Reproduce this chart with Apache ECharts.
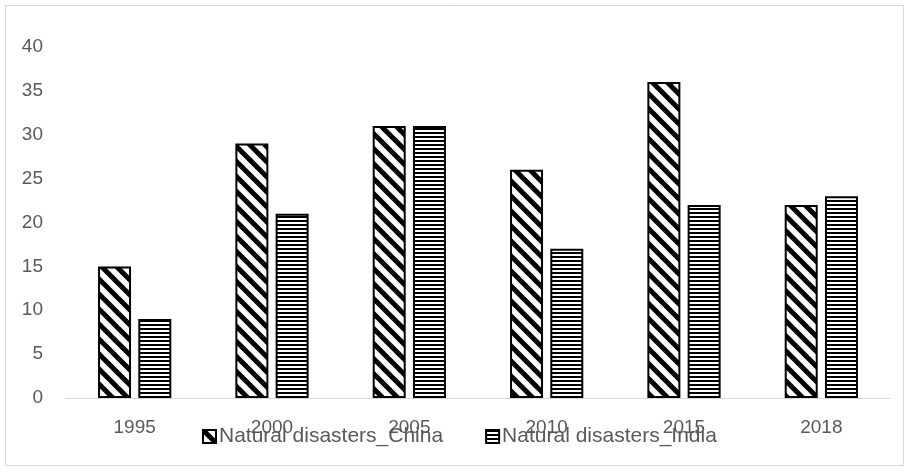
<!DOCTYPE html>
<html>
<head>
<meta charset="utf-8">
<script src="https://cdn.jsdelivr.net/npm/echarts@6/dist/echarts.min.js"></script>
<style>html,body{margin:0;padding:0;background:#fff;}#c{width:910px;height:472px;}</style>
</head>
<body>
<div id="c"></div>
<script>
var categories = ['1995', '2000', '2005', '2010', '2015', '2018'];
var chinaValues = [15, 29, 31, 26, 36, 22];
var indiaValues = [9, 21, 31, 17, 22, 23];
var seriesNames = ['Natural disasters_China', 'Natural disasters_India'];

function diagPattern() {
  var s = 15, c = document.createElement('canvas');
  c.width = s; c.height = s;
  var g = c.getContext('2d');
  g.fillStyle = '#fff'; g.fillRect(0, 0, s, s);
  g.strokeStyle = '#000'; g.lineWidth = 5;
  for (var k = -1; k <= 1; k++) {
    g.beginPath(); g.moveTo(k * s - 2, -2); g.lineTo(k * s + s + 2, s + 2); g.stroke();
  }
  return c;
}
function horizPattern() {
  var c = document.createElement('canvas');
  c.width = 4; c.height = 4;
  var g = c.getContext('2d');
  g.fillStyle = '#fff'; g.fillRect(0, 0, 4, 4);
  g.fillStyle = '#000'; g.fillRect(0, 0, 4, 2);
  return c;
}

var chart = echarts.init(document.getElementById('c'), null, {renderer: 'canvas'});
var font = 'Liberation Sans';
chart.setOption({
  animation: false,
  backgroundColor: '#fff',
  graphic: [{
    type: 'rect', shape: {x: 5.5, y: 5.5, width: 898, height: 460},
    style: {fill: 'none', stroke: '#d9d9d9', lineWidth: 1}, z: -1
  }],
  grid: {left: 66, right: 20, top: 47, bottom: 74, containLabel: false},
  legend: {
    top: 421, left: 197,
    itemWidth: 13, itemHeight: 13, itemGap: 42,
    icon: 'rect',
    textStyle: {color: '#595959', fontSize: 21, fontFamily: font, padding: [0, 0, 0, -2]},
    data: seriesNames
  },
  xAxis: {
    type: 'category', data: categories,
    axisLine: {lineStyle: {color: '#d9d9d9', width: 1}},
    axisTick: {show: false},
    axisLabel: {color: '#595959', fontSize: 19, fontFamily: font, margin: 20}
  },
  yAxis: {
    type: 'value', min: 0, max: 40, interval: 5,
    axisLine: {show: false}, axisTick: {show: false},
    splitLine: {show: false},
    axisLabel: {color: '#595959', fontSize: 19, fontFamily: font, margin: 23}
  },
  series: [{
    name: seriesNames[0], type: 'bar', data: chinaValues,
    barWidth: 33, barGap: '22%',
    itemStyle: {color: {image: diagPattern(), repeat: 'repeat'}, borderColor: '#000', borderWidth: 2}
  }, {
    name: seriesNames[1], type: 'bar', data: indiaValues,
    barWidth: 33,
    itemStyle: {color: {image: horizPattern(), repeat: 'repeat'}, borderColor: '#000', borderWidth: 2}
  }]
});
</script>
</body>
</html>
